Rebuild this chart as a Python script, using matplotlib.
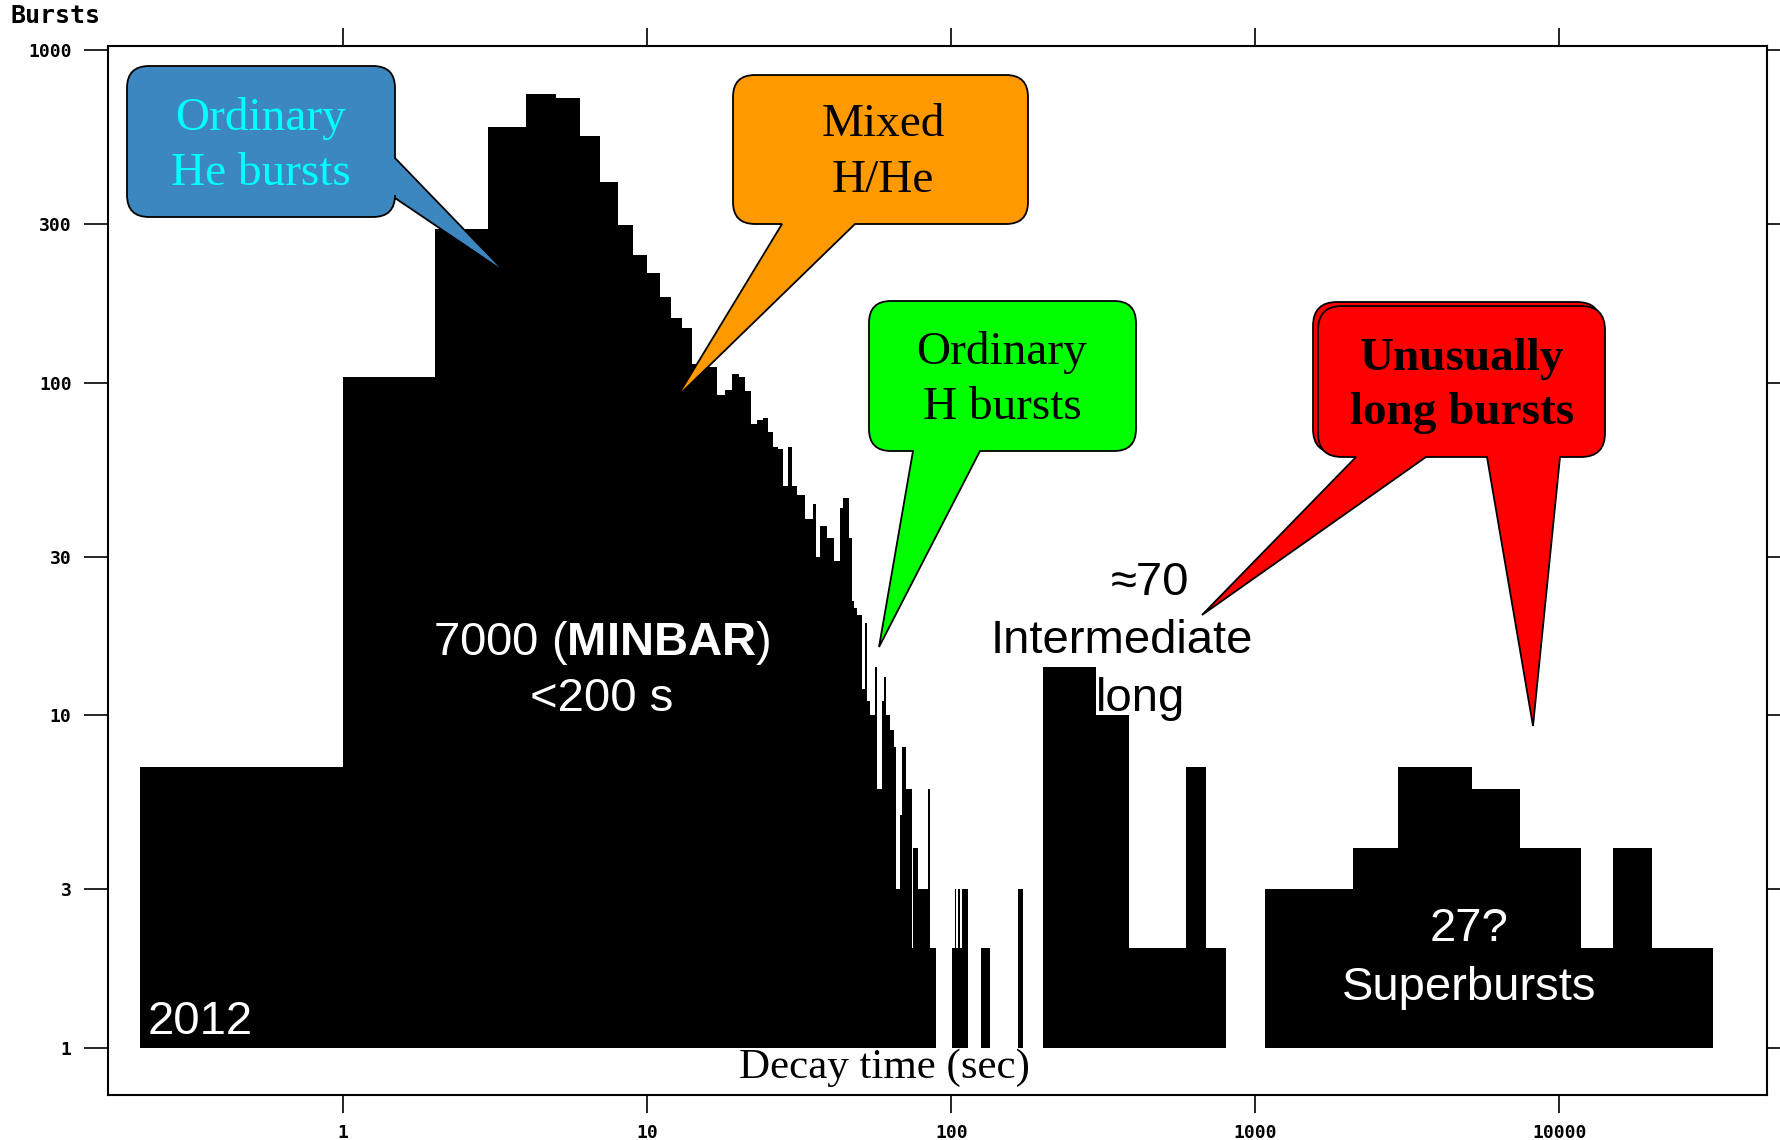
import numpy as np
import matplotlib
matplotlib.use("Agg")
import matplotlib.pyplot as plt
from matplotlib.path import Path
from matplotlib.patches import PathPatch

# ---------------------------------------------------------------- data
# Short (MINBAR) bursts, 1-s bins; first bin runs from 0.215 s to 1 s
short_edges = [0.215] + list(range(1, 90))
short_counts = [7,
                104, 290, 586, 736, 715, 549, 402, 298, 241, 214,
                181, 156, 146, 114, 112, 111, 92, 95, 106, 104,
                94, 75, 77, 78, 71, 64, 63, 49, 64, 49,
                46, 46, 39, 39, 43, 30, 37, 37, 34, 34,
                29, 29, 42, 45, 45, 34, 22, 21, 20, 20,
                12, 19, 11, 10, 10, 14, 6, 6, 11, 13,
                10, 10, 9, 9, 8, 3, 3, 5, 8, 8,
                6, 6, 6, 2, 4, 4, 4, 3, 3, 3,
                3, 3, 3, 6, 2, 2, 2, 2]

# Sparse bursts between 100 and 200 s
mid_edges = [100.5, 103, 103.7, 105.2, 106.6, 108.3, 113.7, 125.4, 134.5, 165.4, 171.6]
mid_counts = [2, 3, 2, 3, 2, 3, 0, 2, 0, 3]

# Intermediate-duration bursts
inter_edges = [200, 300, 385, 590, 690, 800]
inter_counts = [14, 10, 2, 7, 2]

# Superbursts
super_edges = [1075, 2100, 2950, 5150, 7400, 11800, 15000, 20200, 32000]
super_counts = [3, 4, 7, 6, 4, 2, 4, 2]

y_ticks = [1, 3, 10, 30, 100, 300, 1000]
y_labels = ["1", "3", "10", "30", "100", "300", "1000"]
x_ticks = [1, 10, 100, 1000, 10000]
x_labels = ["1", "10", "100", "1000", "10000"]

# ---------------------------------------------------------------- figure
W, H = 1781, 1140
fig = plt.figure(figsize=(W / 100, H / 100), dpi=100)
fig.patch.set_facecolor("white")

ax_l, ax_r, ax_t, ax_b = 107.7, 1766.7, 46, 1095
ax = fig.add_axes([ax_l / W, 1 - ax_b / H, (ax_r - ax_l) / W, (ax_b - ax_t) / H])
ax.set_xscale("log")
ax.set_yscale("log")
ax.set_xlim(0.168, 48100)
ax.set_ylim(0.722, 1027)

for edges, counts in [(short_edges, short_counts), (mid_edges, mid_counts),
                      (inter_edges, inter_counts), (super_edges, super_counts)]:
    # empty bins sit on the baseline of 1 burst
    vals = np.maximum(np.asarray(counts, dtype=float), 1)
    ax.stairs(vals, edges, baseline=1, fill=True, color="black", lw=0)

for sp in ax.spines.values():
    sp.set_linewidth(1.5)
    sp.set_color("black")

tick_font = dict(family=["DejaVu Sans Mono"], weight="bold", size=13)
ax.set_yticks(y_ticks)
ax.set_yticklabels(y_labels, **tick_font)
ax.set_xticks(x_ticks)
ax.set_xticklabels(x_labels, **tick_font)
ax.minorticks_off()
ax.tick_params(axis="both", which="both", direction="out", width=1.2, color="black")
ax.tick_params(axis="y", which="major", left=True, right=True, length=17, pad=9)
ax.tick_params(axis="x", which="major", bottom=True, top=True, length=13, pad=8)

ax.set_xlabel("Decay time (sec)", family=["Liberation Serif"], fontsize=31)
ax.xaxis.set_label_coords((884 - ax_l) / (ax_r - ax_l), (ax_b - 1068) / (ax_b - ax_t))
ax.xaxis.label.set_va("center")

ax.set_ylabel("Bursts", rotation=0, family=["DejaVu Sans Mono"], weight="bold", fontsize=18)
ax.yaxis.set_label_coords((11 - ax_l) / (ax_r - ax_l), (ax_b - 16) / (ax_b - ax_t))
ax.yaxis.label.set_ha("left")
ax.yaxis.label.set_va("center")


def fx(px, py):
    return px / W, 1 - py / H


# ---------------------------------------------------------------- labels
plt.rcParams["mathtext.fontset"] = "custom"
plt.rcParams["mathtext.rm"] = "Liberation Sans"
plt.rcParams["mathtext.bf"] = "Liberation Sans:bold"

sans = ["Liberation Sans", "DejaVu Sans"]
fig.text(*fx(602, 643), "7000 ($\\mathbf{MINBAR}$)", color="white", family=sans,
         fontsize=34, ha="center", va="center", zorder=5)
fig.text(*fx(602, 699), "<200 s", color="white", family=sans,
         fontsize=34, ha="center", va="center", zorder=5)
fig.text(*fx(148, 1022), "2012", color="white", family=sans,
         fontsize=34, ha="left", va="center", zorder=5)
fig.text(*fx(1150, 583), "\u224870", color="black", family=sans,
         fontsize=34, ha="center", va="center", zorder=5)
fig.text(*fx(1122, 641), "Intermediate", color="black", family=sans,
         fontsize=34, ha="center", va="center", zorder=5)
fig.text(*fx(1141, 699), "long", color="black", family=sans,
         fontsize=34, ha="center", va="center", zorder=5)
fig.text(*fx(1469, 929), "27?", color="white", family=sans,
         fontsize=34, ha="center", va="center", zorder=5)
fig.text(*fx(1469, 988), "Superbursts", color="white", family=sans,
         fontsize=34, ha="center", va="center", zorder=5)


# ---------------------------------------------------------------- callouts
def bubble_path(x0, y0, x1, y1, r, right_tails=(), bottom_tails=()):
    """Rounded box with pointer tails; pixel coordinates measured from the top-left."""
    verts, codes = [], []

    def mv(p):
        verts.append(p); codes.append(Path.MOVETO)

    def ln(p):
        verts.append(p); codes.append(Path.LINETO)

    def cv(c, p):
        verts.extend([c, p]); codes.extend([Path.CURVE3, Path.CURVE3])

    mv((x0 + r, y0))
    ln((x1 - r, y0))
    cv((x1, y0), (x1, y0 + r))
    for a, b, tip in sorted(right_tails):
        ln((x1, a)); ln(tip); ln((x1, b))
    ln((x1, y1 - r))
    cv((x1, y1), (x1 - r, y1))
    for a, b, tip in sorted(bottom_tails, reverse=True):
        ln((b, y1)); ln(tip); ln((a, y1))
    ln((x0 + r, y1))
    cv((x0, y1), (x0, y1 - r))
    ln((x0, y0 + r))
    cv((x0, y0), (x0 + r, y0))
    verts.append((x0 + r, y0)); codes.append(Path.CLOSEPOLY)
    return Path([fx(x, y) for x, y in verts], codes)


def add_bubble(path, color):
    fig.add_artist(PathPatch(path, transform=fig.transFigure, facecolor=color,
                             edgecolor="black", lw=1.3, zorder=6))


serif = ["Liberation Serif", "DejaVu Serif"]
bubble_font = dict(family=serif, fontsize=34, ha="center", va="center",
                   linespacing=1.4, zorder=7)

# Ordinary He bursts
add_bubble(bubble_path(127, 66, 395, 217, 22,
                       right_tails=[(158, 198, (506, 273))]), "#3d87c1")
fig.text(*fx(261, 146), "Ordinary\nHe bursts", color="#00ffff", **bubble_font)

# Mixed H/He
add_bubble(bubble_path(733, 75, 1028, 224, 22,
                       bottom_tails=[(782, 855, (677, 397))]), "#ff9900")
fig.text(*fx(883, 153), "Mixed\nH/He", color="black", **bubble_font)

# Ordinary H bursts
add_bubble(bubble_path(869, 301, 1136, 451, 22,
                       bottom_tails=[(913, 980, (879, 647))]), "#00ff00")
fig.text(*fx(1002, 380), "Ordinary\nH bursts", color="black", **bubble_font)

# Unusually long bursts (stacked double box)
add_bubble(bubble_path(1313, 302, 1601, 453, 24), "#ff0000")
add_bubble(bubble_path(1318, 306, 1605, 457, 24,
                       bottom_tails=[(1356, 1426, (1202, 615)),
                                     (1487, 1560, (1533, 726))]), "#ff0000")
fig.text(*fx(1462, 386), "Unusually\nlong bursts", color="black", weight="bold",
         **bubble_font)

fig.savefig("out.png", dpi=100, facecolor="white")
